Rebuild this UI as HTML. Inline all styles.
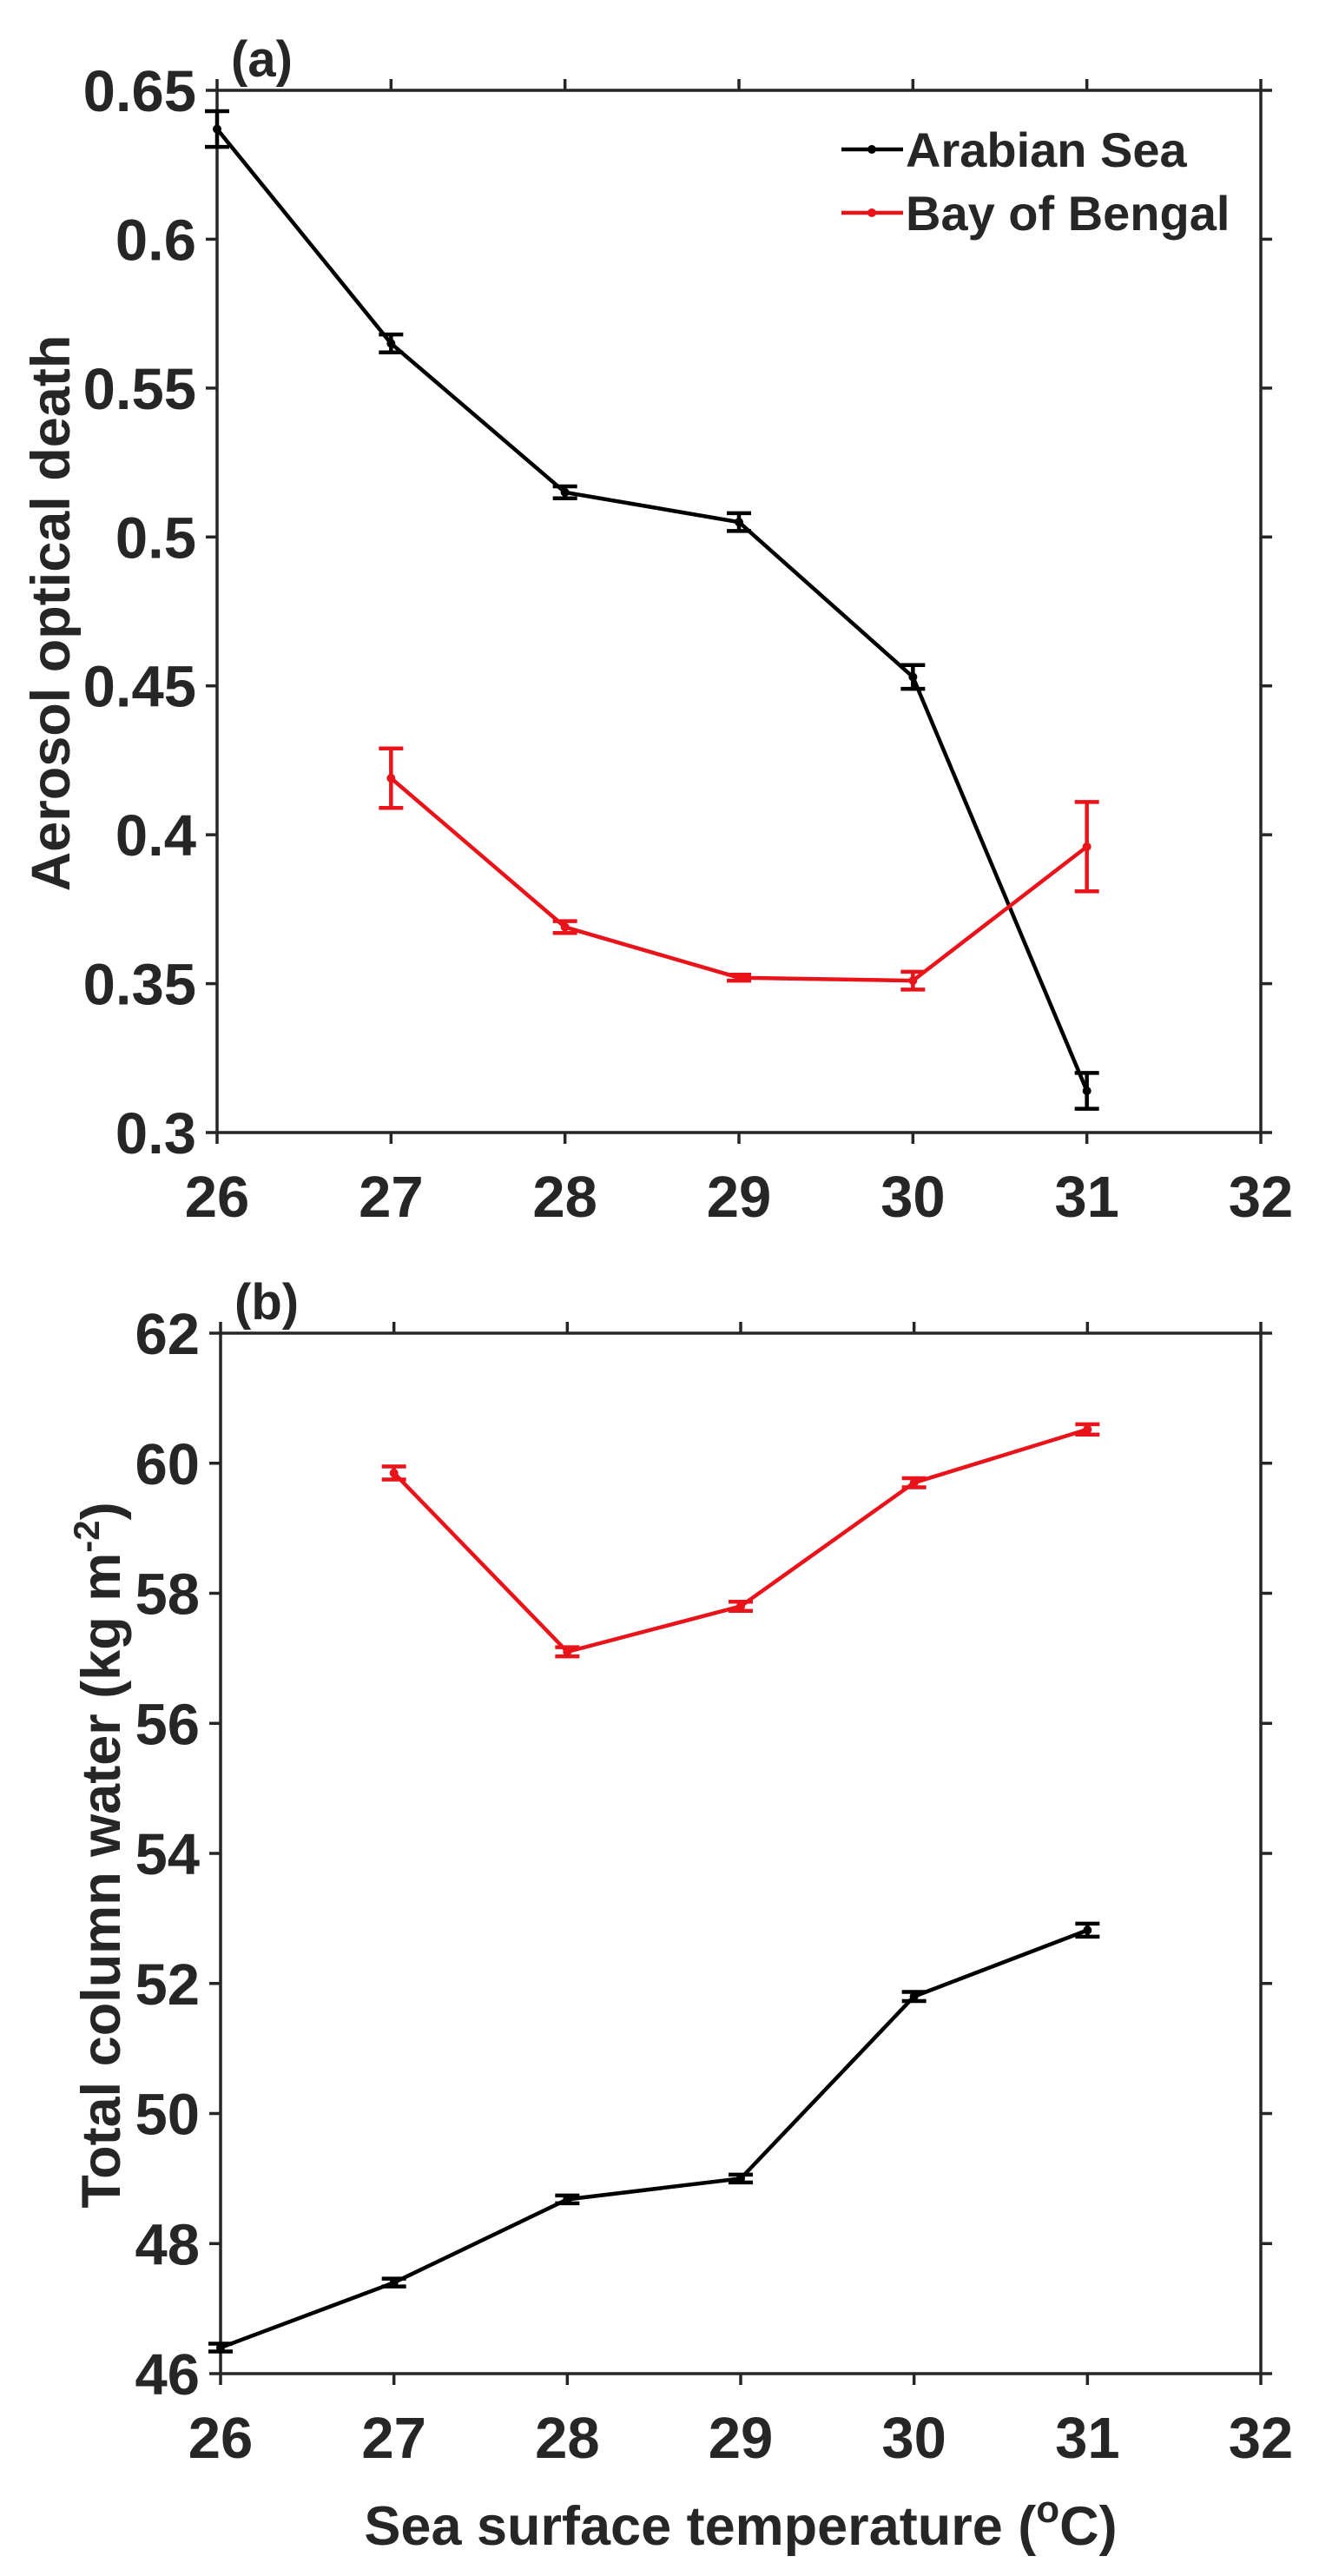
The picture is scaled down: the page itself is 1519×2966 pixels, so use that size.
<!DOCTYPE html>
<html><head><meta charset="utf-8"><style>
html,body{margin:0;padding:0;background:#fff}
svg{display:block}
text{font-family:"Liberation Sans",Arial,sans-serif;font-weight:bold;fill:#262626}
</style></head><body>
<svg id="fig" width="1519" height="2966" viewBox="0 0 1519 2966" xmlns="http://www.w3.org/2000/svg"></svg>
<script>
const sst = [26, 27, 28, 29, 30, 31];
const xTicks = [26, 27, 28, 29, 30, 31, 32];
const aodArabian = [0.637, 0.565, 0.515, 0.505, 0.453, 0.314];
const aodArabianErr = [0.006, 0.003, 0.002, 0.003, 0.004, 0.006];
const aodBengal = [null, 0.419, 0.369, 0.352, 0.351, 0.396];
const aodBengalErr = [null, 0.010, 0.002, 0.001, 0.003, 0.015];
const aodTicks = [0.3, 0.35, 0.4, 0.45, 0.5, 0.55, 0.6, 0.65];
const aodTickLabels = ["0.3", "0.35", "0.4", "0.45", "0.5", "0.55", "0.6", "0.65"];
const tcwArabian = [46.4, 47.4, 48.68, 49.0, 51.8, 52.82];
const tcwArabianErr = [0.06, 0.06, 0.06, 0.06, 0.07, 0.1];
const tcwBengal = [null, 59.85, 57.1, 57.8, 59.7, 60.52];
const tcwBengalErr = [null, 0.1, 0.07, 0.07, 0.07, 0.08];
const tcwTicks = [46, 48, 50, 52, 54, 56, 58, 60, 62];

const NS = "http://www.w3.org/2000/svg";
const svg = document.getElementById("fig");
function mk(tag, attrs, parent) {
  const e = document.createElementNS(NS, tag);
  for (const k in attrs) e.setAttribute(k, attrs[k]);
  (parent || svg).appendChild(e);
  return e;
}

function panel(p) {
  const g = mk("g", {});
  
  
  const sx = v => p.x0 + (v - 26) / 6 * (p.x1 - p.x0);
  const sy = v => p.y1 - (v - p.ymin) / (p.ymax - p.ymin) * (p.y1 - p.y0);
  const ax = mk("rect", {x: p.x0, y: p.y0, width: p.x1 - p.x0, height: p.y1 - p.y0, fill: "none", stroke: "#262626", "stroke-width": 3.5}, g);
  
  
  xTicks.forEach(t => {
    const x = sx(t);
    mk("line", {x1: x, x2: x, y1: p.y1, y2: p.y1 + 13, stroke: "#262626", "stroke-width": 3.5}, g);
    mk("line", {x1: x, x2: x, y1: p.y0, y2: p.y0 - 13, stroke: "#262626", "stroke-width": 3.5}, g);
    const tl = mk("text", {x: x, y: p.y1 + 97, "text-anchor": "middle", "font-size": 67}, g);
    tl.textContent = t;
    
    
  });
  p.ticks.forEach((t, i) => {
    const y = sy(t);
    mk("line", {x1: p.x0, x2: p.x0 - 13, y1: y, y2: y, stroke: "#262626", "stroke-width": 3.5}, g);
    mk("line", {x1: p.x1, x2: p.x1 + 13, y1: y, y2: y, stroke: "#262626", "stroke-width": 3.5}, g);
    const tl = mk("text", {x: p.x0 - 24, y: y + 24, "text-anchor": "end", "font-size": 67}, g);
    tl.textContent = p.tickLabels[i];
    
    
  });
  p.series.forEach(s => {
    const sg = mk("g", {}, g);
    
    
    let d = "";
    sst.forEach((x, i) => {
      if (s.vals[i] == null) return;
      d += (d ? "L" : "M") + sx(x) + "," + sy(s.vals[i]);
    });
    mk("path", {d: d, fill: "none", stroke: s.color, "stroke-width": 4.5}, sg);
    sst.forEach((x, i) => {
      if (s.vals[i] == null) return;
      const cx = sx(x), lo = sy(s.vals[i] - s.err[i]), hi = sy(s.vals[i] + s.err[i]);
      const eb = mk("g", {stroke: s.color, "stroke-width": 4.5}, sg);
      
      
      mk("line", {x1: cx, x2: cx, y1: lo, y2: hi}, eb);
      mk("line", {x1: cx - 14, x2: cx + 14, y1: lo, y2: lo}, eb);
      mk("line", {x1: cx - 14, x2: cx + 14, y1: hi, y2: hi}, eb);
      const pt = mk("circle", {cx: cx, cy: sy(s.vals[i]), r: 5, fill: s.color}, sg);
      
      
    });
  });
  const pl = mk("text", {x: p.x0 + 16, y: p.y0 - 16, "font-size": 58}, g);
  pl.textContent = p.label;
  
  
  const yt = mk("text", {x: 0, y: 0, "text-anchor": "middle", "font-size": p.ysize, transform: "translate(" + p.ylx + "," + p.yly + ") rotate(-90)"}, g);
  yt.innerHTML = p.ytitle;
  
  
  return g;
}

panel({name: "panel-a-aod", x0: 250, x1: 1452, y0: 104, y1: 1304, ymin: 0.3, ymax: 0.65,
  ticks: aodTicks, tickLabels: aodTickLabels, label: "(a)", ylx: 80, yly: 706, ysize: 63,
  ytitle: "Aerosol optical death",
  series: [
    {name: "series-arabian-sea", vals: aodArabian, err: aodArabianErr, color: "#000"},
    {name: "series-bay-of-bengal", vals: aodBengal, err: aodBengalErr, color: "#e8141a"}
  ]});
panel({name: "panel-b-tcw", x0: 254, x1: 1452, y0: 1535, y1: 2733, ymin: 46, ymax: 62,
  ticks: tcwTicks, tickLabels: tcwTicks.map(String), label: "(b)", ylx: 138, yly: 2136, ysize: 63,
  ytitle: 'Total column water (kg m<tspan dy="-24" font-size="42">-2</tspan><tspan dy="24">)</tspan>',
  series: [
    {name: "series-bay-of-bengal", vals: tcwBengal, err: tcwBengalErr, color: "#e8141a"},
    {name: "series-arabian-sea", vals: tcwArabian, err: tcwArabianErr, color: "#000"}
  ]});

const xt = mk("text", {x: 853, y: 2930, "text-anchor": "middle", "font-size": 63});
xt.innerHTML = 'Sea surface temperature (<tspan dy="-26" font-size="44">o</tspan><tspan dy="26">C)</tspan>';



// legend
const leg = mk("g", {});


[["Arabian Sea", "#000", 172], ["Bay of Bengal", "#e8141a", 245]].forEach(e => {
  const le = mk("g", {}, leg);
  
  
  mk("line", {x1: 969, x2: 1040, y1: e[2], y2: e[2], stroke: e[1], "stroke-width": 4.5}, le);
  mk("circle", {cx: 1004, cy: e[2], r: 5, fill: e[1]}, le);
  const t = mk("text", {x: 1043, y: e[2] + 20, "font-size": 56}, le);
  t.textContent = e[0];
});
</script>
</body></html>
